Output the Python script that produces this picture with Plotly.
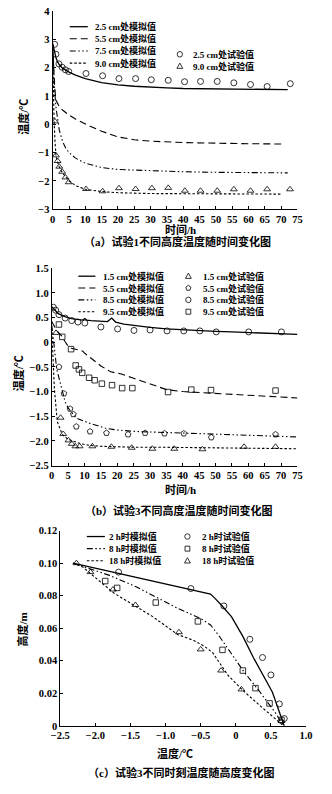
import math
import plotly.graph_objects as go

W, H = 332, 794
FONT = "Liberation Serif, Noto Sans CJK SC, serif"

# ---------------- Panel (a): 试验1 ----------------
a_t_25 = [0, 0.5, 1, 1.5, 2, 3, 4, 5, 7, 10, 15, 20, 25, 30, 35, 40, 50, 60, 72]
a_y_25 = [2.85, 2.55, 2.35, 2.2, 2.1, 1.98, 1.9, 1.84, 1.73, 1.61, 1.47, 1.39, 1.34, 1.3, 1.28, 1.26, 1.24, 1.23, 1.22]
a_t_55 = [0, 0.3, 0.6, 1, 2, 3, 5, 7, 10, 12, 15, 20, 25, 30, 40, 50, 60, 70]
a_y_55 = [2.8, 2.0, 1.3, 0.85, 0.62, 0.5, 0.32, 0.18, 0.0, -0.1, -0.25, -0.45, -0.55, -0.6, -0.65, -0.68, -0.69, -0.7]
a_t_75 = [0, 0.3, 0.6, 1, 1.5, 2, 3, 4, 5, 7, 10, 15, 20, 30, 40, 50, 60, 72]
a_y_75 = [2.8, 1.8, 1.2, 0.6, 0.1, -0.2, -0.6, -0.85, -1.0, -1.2, -1.38, -1.53, -1.6, -1.65, -1.68, -1.7, -1.71, -1.72]
a_t_90 = [0, 0.2, 0.4, 0.7, 1, 1.5, 2, 3, 4, 5, 7, 10, 15, 20, 30, 40, 50, 60, 70]
a_y_90 = [2.8, 1.2, 0.2, -0.6, -1.1, -1.35, -1.5, -1.72, -1.88, -2.0, -2.17, -2.3, -2.38, -2.42, -2.45, -2.46, -2.46, -2.47, -2.47]
a_exp_t_25 = [0.6, 1, 1.9, 2.9, 3.9, 4.9, 10.2, 15.3, 20.3, 25.4, 30.2, 35.4, 40.4, 45.3, 50.4, 55.5, 60.6, 65.7, 72.8]
a_exp_y_25 = [2.82, 2.47, 2.13, 2.01, 1.92, 1.86, 1.79, 1.71, 1.61, 1.61, 1.57, 1.55, 1.50, 1.51, 1.51, 1.46, 1.40, 1.33, 1.43]
a_exp_t_90 = [0.7, 1.0, 1.5, 2.0, 2.9, 3.9, 4.9, 10.2, 15.3, 20.3, 25.4, 30.4, 35.4, 40.5, 45.3, 50.4, 55.5, 60.6, 65.7, 72.7]
a_exp_y_90 = [0.1, -1.1, -1.3, -1.5, -1.68, -1.88, -2.05, -2.29, -2.37, -2.26, -2.29, -2.26, -2.25, -2.35, -2.35, -2.35, -2.30, -2.35, -2.30, -2.30]
a_xticks = list(range(0, 80, 5))
a_yticks = [-3, -2, -1, 0, 1, 2, 3, 4]
a_ytext = ["−3", "−2", "−1", "0", "1", "2", "3", "4"]
a_line_labels = ["2.5 cm处模拟值", "5.5 cm处模拟值", "7.5 cm处模拟值", "9.0 cm处模拟值"]
a_mark_labels = ["2.5 cm处试验值", "9.0 cm处试验值"]

# ---------------- Panel (b): 试验3 ----------------
b_t_15 = [0, 0.5, 1, 2, 3, 4, 6, 8, 9.5, 10.1, 10.7, 12, 15, 17, 18.3, 19.5, 22, 26, 30, 35, 40, 45, 50, 55, 60, 65, 70, 75]
b_y_15 = [0.72, 0.68, 0.64, 0.58, 0.55, 0.52, 0.48, 0.46, 0.45, 0.48, 0.45, 0.44, 0.43, 0.42, 0.49, 0.41, 0.37, 0.33, 0.3, 0.27, 0.25, 0.24, 0.22, 0.21, 0.2, 0.18, 0.17, 0.16]
b_t_55 = [0, 0.5, 1, 2, 3, 4, 5, 6, 8, 9.5, 10, 12, 15, 18, 21, 25, 30, 35, 40, 50, 60, 70, 75]
b_y_55 = [0.42, 0.35, 0.3, 0.2, 0.13, 0.02, -0.08, -0.12, -0.16, -0.18, -0.22, -0.33, -0.48, -0.6, -0.64, -0.73, -0.85, -0.96, -1.0, -1.04, -1.08, -1.12, -1.13]
b_t_85 = [0, 0.5, 0.8, 1.5, 2.5, 3.4, 4.1, 5, 6.6, 8, 11.4, 16.2, 20, 25.9, 35.5, 45.2, 54.8, 65, 75]
b_y_85 = [0.35, 0.1, -0.11, -0.54, -0.8, -1.0, -1.21, -1.33, -1.47, -1.55, -1.64, -1.74, -1.78, -1.81, -1.83, -1.85, -1.87, -1.9, -1.92]
b_t_95 = [0, 0.3, 0.8, 1.7, 3.2, 5, 6.6, 9, 11.4, 15, 20, 25.9, 35, 45.2, 55, 65, 75]
b_y_95 = [0.3, -0.3, -0.94, -1.61, -1.87, -1.97, -2.01, -2.06, -2.09, -2.11, -2.12, -2.13, -2.13, -2.14, -2.15, -2.15, -2.16]
b_tri_t = [1.3, 2.7, 3.5, 5.1, 6.1, 7.2, 8.5, 12.4, 18.2, 24.4, 30.7, 37.4, 46, 58.7, 68.3]
b_tri_y = [0.19, -1.53, -1.86, -1.99, -2.06, -2.11, -2.11, -2.11, -2.12, -2.14, -2.16, -2.16, -2.17, -2.12, -2.12]
b_pent_t = [2.2, 3.7, 5.6, 6.6, 7.5, 11.7, 16.7, 23.3, 28.5, 34.4, 40.3, 48.7, 68.3]
b_pent_y = [-0.5, -1.04, -1.35, -1.46, -1.71, -1.81, -1.84, -1.87, -1.84, -1.85, -1.85, -1.93, -1.87]
b_circ_t = [0.5, 1.2, 2.2, 4.1, 6.1, 8, 10.1, 15, 20.1, 25.1, 30, 35.2, 40.3, 45.2, 50.2, 60.1, 70.1]
b_circ_y = [0.71, 0.65, 0.56, 0.49, 0.44, 0.41, 0.39, 0.31, 0.27, 0.24, 0.25, 0.23, 0.23, 0.23, 0.21, 0.21, 0.21]
b_sq_t = [2.2, 3.2, 5.9, 7.3, 8.3, 9.3, 11.4, 13.1, 15.3, 18.4, 21.5, 24.6, 35.5, 42.6, 48.6, 68.3]
b_sq_y = [0.36, 0.11, -0.14, -0.47, -0.55, -0.62, -0.72, -0.77, -0.84, -0.87, -0.93, -0.93, -1.01, -0.96, -0.97, -0.98]
b_xticks = list(range(0, 80, 5))
b_yticks = [-2.5, -2.0, -1.5, -1.0, -0.5, 0, 0.5, 1.0, 1.5]
b_ytext = ["−2.5", "−2.0", "−1.5", "−1.0", "−0.5", "0", "0.5", "1.0", "1.5"]
b_line_labels = ["1.5 cm处模拟值", "5.5 cm处模拟值", "8.5 cm处模拟值", "9.5 cm处模拟值"]
b_mark_labels = ["1.5 cm处试验值", "5.5 cm处试验值", "8.5 cm处试验值", "9.5 cm处试验值"]

# ---------------- Panel (c): 试验3 不同时刻 ----------------
c_x_2 = [-2.32, -1.0, -0.5, -0.36, -0.3, -0.2, -0.06, 0.1, 0.25, 0.52, 0.66, 0.69]
c_y_2 = [0.1, 0.0872, 0.0823, 0.081, 0.0785, 0.074, 0.067, 0.055, 0.042, 0.0208, 0.0036, 0.0]
c_x_8 = [-2.32, -1.8, -1.42, -0.83, -0.5, -0.36, -0.25, -0.11, 0.12, 0.34, 0.57, 0.68]
c_y_8 = [0.1, 0.0925, 0.0855, 0.0723, 0.066, 0.062, 0.056, 0.047, 0.033, 0.021, 0.0077, 0.0]
c_x_18 = [-2.32, -2.18, -1.73, -1.19, -0.83, -0.6, -0.45, -0.33, -0.11, 0.12, 0.39, 0.61, 0.68]
c_y_18 = [0.1, 0.0976, 0.0814, 0.0673, 0.0562, 0.0525, 0.049, 0.045, 0.031, 0.021, 0.0107, 0.0026, 0.0]
c_circ_x = [-1.67, -0.64, -0.17, 0.20, 0.38, 0.50, 0.62, 0.69]
c_circ_y = [0.0945, 0.0844, 0.0737, 0.0532, 0.042, 0.0313, 0.0135, 0.0045]
c_sq_x = [-1.86, -1.69, -1.14, -0.54, -0.19, 0.10, 0.28, 0.48, 0.65]
c_sq_y = [0.089, 0.0848, 0.0758, 0.0642, 0.0467, 0.034, 0.0232, 0.0138, 0.0036]
c_tri_x = [-2.27, -2.07, -1.75, -1.43, -0.81, -0.50, -0.21, 0.08, 0.65]
c_tri_y = [0.10, 0.0945, 0.0838, 0.0743, 0.0576, 0.047, 0.034, 0.0224, 0.003]
c_xticks = [-2.5, -2.0, -1.5, -1.0, -0.5, 0, 0.5, 1.0]
c_xtext = ["−2.5", "−2.0", "−1.5", "−1.0", "−0.5", "0", "0.5", "1.0"]
c_yticks = [0, 0.02, 0.04, 0.06, 0.08, 0.10, 0.12]
c_ytext = ["0", "0.02", "0.04", "0.06", "0.08", "0.10", "0.12"]
c_line_labels = ["2 h时模拟值", "8 h时模拟值", "18 h时模拟值"]
c_mark_labels = ["2 h时试验值", "8 h时试验值", "18 h时试验值"]

captions = ["（a）试验1不同高度温度随时间变化图", "（b）试验3不同高度温度随时间变化图", "（c）试验3不同时刻温度随高度变化图"]

DASH = {"solid": "solid", "dash": "7px,4px", "dashdot": "6px,2.5px,1.5px,2.5px,1.5px,2.5px", "dot": "2.5px,2px"}


def X(px):
    return px / W


def Y(py):
    return 1 - py / H


fig = go.Figure()


def add_line(x, y, dash, ax, width=1.1):
    fig.add_trace(go.Scatter(x=x, y=y, mode="lines", xaxis="x" + ax, yaxis="y" + ax,
                             line=dict(color="black", width=width, dash=DASH[dash]),
                             showlegend=False, hoverinfo="skip"))


def add_pts(x, y, symbol, ax, size=6):
    fig.add_trace(go.Scatter(x=x, y=y, mode="markers", xaxis="x" + ax, yaxis="y" + ax,
                             marker=dict(symbol=symbol, size=size, color="black",
                                         line=dict(color="black", width=0.8)),
                             showlegend=False, hoverinfo="skip"))


# panel a
add_line(a_t_25, a_y_25, "solid", "", 1.3)
add_line(a_t_55, a_y_55, "dash", "")
add_line(a_t_75, a_y_75, "dashdot", "")
add_line(a_t_90, a_y_90, "dot", "")
add_pts(a_exp_t_25, a_exp_y_25, "circle-open", "")
add_pts(a_exp_t_90, a_exp_y_90, "triangle-up-open", "")
# panel b
add_line(b_t_15, b_y_15, "solid", "2", 1.3)
add_line(b_t_55, b_y_55, "dash", "2")
add_line(b_t_85, b_y_85, "dashdot", "2")
add_line(b_t_95, b_y_95, "dot", "2")
add_pts(b_tri_t, b_tri_y, "triangle-up-open", "2")
add_pts(b_pent_t, b_pent_y, "pentagon-open", "2")
add_pts(b_circ_t, b_circ_y, "circle-open", "2")
add_pts(b_sq_t, b_sq_y, "square-open", "2", 5.5)
# panel c
add_line(c_x_2, c_y_2, "solid", "3", 1.3)
add_line(c_x_8, c_y_8, "dashdot", "3")
add_line(c_x_18, c_y_18, "dot", "3")
add_pts(c_circ_x, c_circ_y, "circle-open", "3")
add_pts(c_sq_x, c_sq_y, "square-open", "3", 5.5)
add_pts(c_tri_x, c_tri_y, "triangle-up-open", "3")

tickfont = dict(family=FONT, size=10.5, color="black", weight="bold")


def axis(domain, rng, tickvals, ticktext, anchor):
    return dict(domain=domain, range=rng, tickvals=tickvals, ticktext=ticktext, anchor=anchor,
                showline=True, linecolor="black", linewidth=1, ticks="inside", ticklen=3,
                tickwidth=1, tickcolor="black", showgrid=False, zeroline=False,
                tickfont=tickfont, fixedrange=True)


fig.update_layout(
    width=W, height=H, margin=dict(l=0, r=0, t=0, b=0),
    paper_bgcolor="white", plot_bgcolor="white", showlegend=False,
    xaxis=axis([X(45), X(303)], [0, 75], a_xticks, [str(v) for v in a_xticks], "y"),
    yaxis=axis([Y(207), Y(6)], [-3, 4], a_yticks, a_ytext, "x"),
    xaxis2=axis([X(44), X(303)], [0, 75], b_xticks, [str(v) for v in b_xticks], "y2"),
    yaxis2=axis([Y(467), Y(267)], [-2.5, 1.5], b_yticks, b_ytext, "x2"),
    xaxis3=axis([X(53), X(312)], [-2.5, 1.0], c_xticks, c_xtext, "y3"),
    yaxis3=axis([Y(731), Y(533)], [0, 0.12], c_yticks, c_ytext, "x3"),
)

shapes = []
annotations = []


def text(px, py, s, size=9, xanchor="left", angle=0, bold=True):
    annotations.append(dict(x=X(px), y=Y(py), xref="paper", yref="paper", text=s, showarrow=False,
                            xanchor=xanchor, yanchor="middle", textangle=angle,
                            font=dict(family=FONT, size=size, color="black",
                                      weight="bold" if bold else "normal")))


def leg_line(x0, x1, py, dash, width=1.1):
    shapes.append(dict(type="line", xref="paper", yref="paper", x0=X(x0), x1=X(x1), y0=Y(py), y1=Y(py),
                       line=dict(color="black", width=width, dash=DASH[dash])))


def leg_mark(cx, cy, kind, r=2.8):
    if kind == "circle":
        shapes.append(dict(type="circle", xref="paper", yref="paper", x0=X(cx - r), x1=X(cx + r),
                           y0=Y(cy + r), y1=Y(cy - r), line=dict(color="black", width=0.8)))
        return
    if kind == "square":
        pts = [(cx - r * 0.9, cy - r * 0.9), (cx + r * 0.9, cy - r * 0.9), (cx + r * 0.9, cy + r * 0.9), (cx - r * 0.9, cy + r * 0.9)]
    elif kind == "triangle":
        pts = [(cx, cy - r * 1.1), (cx + r * 1.1, cy + r * 0.8), (cx - r * 1.1, cy + r * 0.8)]
    else:  # pentagon
        pts = [(cx + r * math.sin(2 * math.pi * k / 5), cy - r * math.cos(2 * math.pi * k / 5)) for k in range(5)]
    path = "M " + " L ".join(f"{X(a):.5f},{Y(b):.5f}" for a, b in pts) + " Z"
    shapes.append(dict(type="path", xref="paper", yref="paper", path=path, line=dict(color="black", width=0.8)))


# legend (a)
for i, (lab, d) in enumerate(zip(a_line_labels, ["solid", "dash", "dashdot", "dot"])):
    yy = 22 + i * 12.3
    leg_line(63, 82, yy, d, 1.3 if d == "solid" else 1.1)
    text(88, yy, lab)
for i, (lab, k) in enumerate(zip(a_mark_labels, ["circle", "triangle"])):
    yy = 50 + i * 12
    leg_mark(179, yy, k)
    text(191, yy, lab)

# legend (b)
for i, (lab, d) in enumerate(zip(b_line_labels, ["solid", "dash", "dashdot", "dot"])):
    yy = 275 + i * 12
    leg_line(72, 90, yy, d, 1.3 if d == "solid" else 1.1)
    text(96, yy, lab)
for i, (lab, k) in enumerate(zip(b_mark_labels, ["triangle", "pentagon", "circle", "square"])):
    yy = 275 + i * 12
    leg_mark(188, yy, k)
    text(201, yy, lab)

# legend (c)
for i, (lab, d) in enumerate(zip(c_line_labels, ["solid", "dashdot", "dot"])):
    yy = 539 + i * 12.3
    leg_line(81, 100, yy, d, 1.3 if d == "solid" else 1.1)
    text(102, yy, lab)
for i, (lab, k) in enumerate(zip(c_mark_labels, ["circle", "square", "triangle"])):
    yy = 539 + i * 12.3
    leg_mark(187, yy, k)
    text(200, yy, lab)

# axis titles
text(180, 228, "时间/h", 11, "center")
text(180, 491, "时间/h", 11, "center")
text(174, 759, "温度/℃", 11, "center")
text(14, 113, "温度/℃", 11, "center", -90)
text(9, 374, "温度/℃", 11, "center", -90)
text(13, 633, "高度/m", 11, "center", -90)
# captions
text(177, 240, captions[0], 11, "center", bold=True)
text(178, 513, captions[1], 11, "center", bold=True)
text(180, 778, captions[2], 11, "center", bold=True)

fig.update_layout(shapes=shapes, annotations=annotations)
fig.write_html("out.html")
